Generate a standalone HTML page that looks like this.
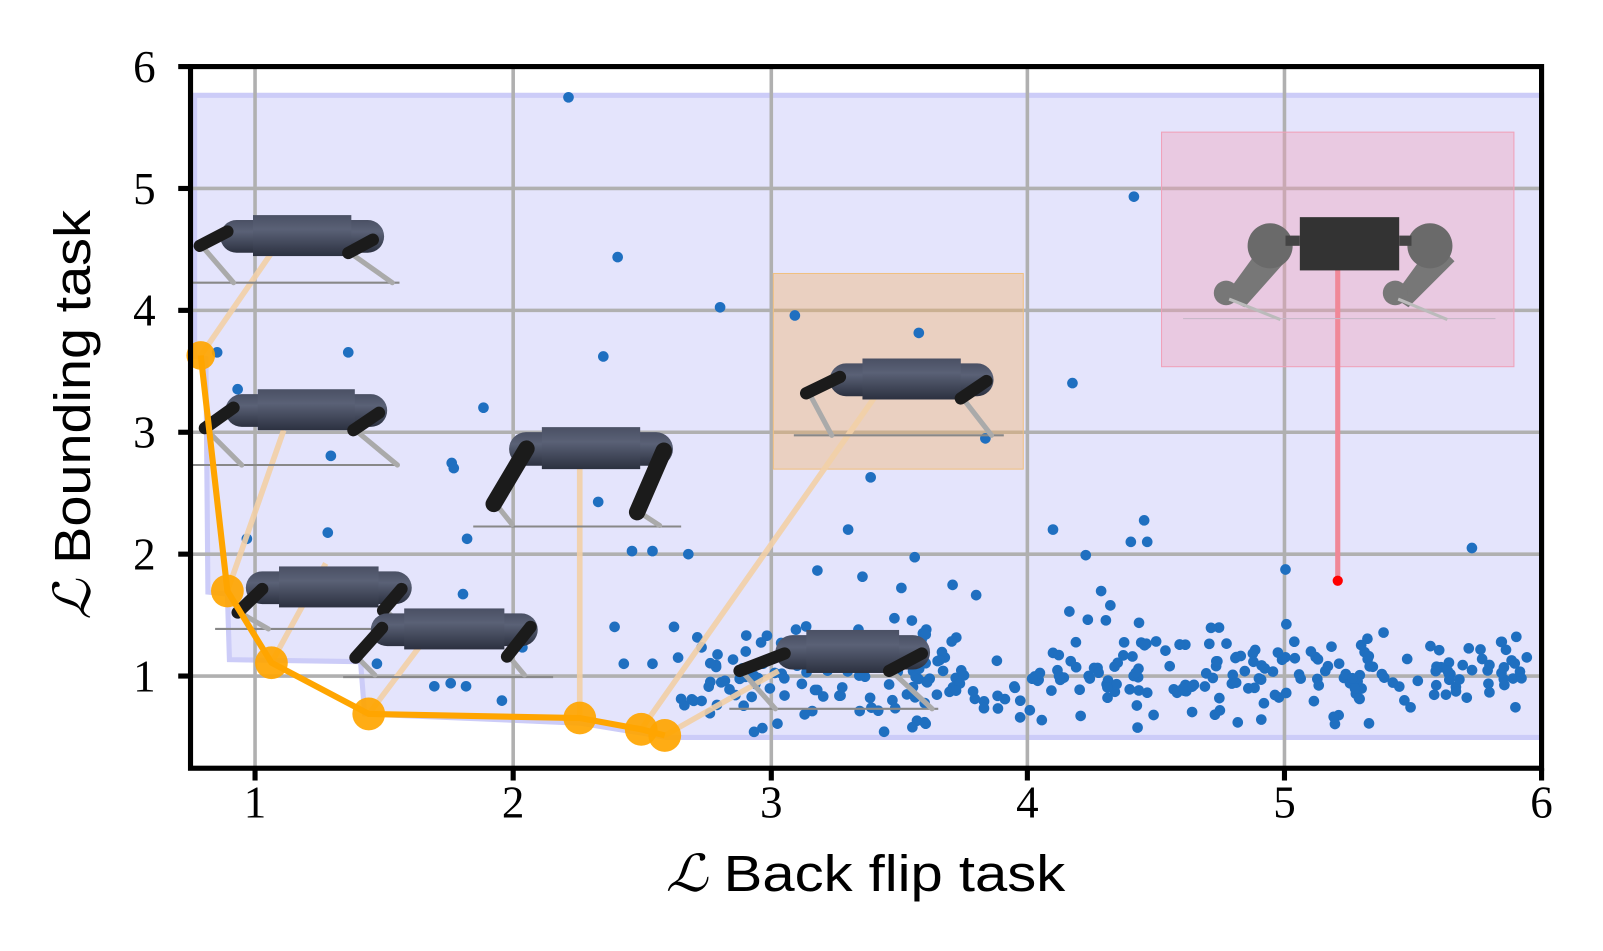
<!DOCTYPE html>
<html><head><meta charset="utf-8">
<style>
html,body{margin:0;padding:0;background:#fff;}
svg{display:block;}
.tk{font-family:"Liberation Serif","DejaVu Serif",serif;font-size:44px;fill:#000;}
.lb{font-family:"Liberation Sans","DejaVu Sans",sans-serif;font-size:50px;fill:#000;}
</style></head>
<body>
<svg id="s" width="1603" height="951" viewBox="0 0 1603 951" xmlns="http://www.w3.org/2000/svg">
<defs>
<linearGradient id="bg" x1="0" y1="0" x2="0" y2="1">
<stop offset="0" stop-color="#4a5064"/><stop offset="0.35" stop-color="#5a6176"/><stop offset="1" stop-color="#2c3140"/>
</linearGradient>
</defs>
<g id="g" transform="scale(1.0243)">
<rect x="0" y="0" width="1565" height="929" fill="#fff"/>
<polygon points="190,93 1505,93 1505,720 650,720 628,716 566,706 356,697 352,646 224,644 222,580 203,578 201,350 190,348" fill="#e4e4fc" stroke="#ccccf8" stroke-width="5"/>
<g id="grid" stroke="#b0b0b0" stroke-width="3.5">
<line x1="249" y1="65" x2="249" y2="750"/><line x1="501" y1="65" x2="501" y2="750"/><line x1="753" y1="65" x2="753" y2="750"/><line x1="1003" y1="65" x2="1003" y2="750"/><line x1="1254" y1="65" x2="1254" y2="750"/>
<line x1="186" y1="184" x2="1505" y2="184"/><line x1="186" y1="303" x2="1505" y2="303"/><line x1="186" y1="422" x2="1505" y2="422"/><line x1="186" y1="541" x2="1505" y2="541"/><line x1="186" y1="660" x2="1505" y2="660"/>
</g>
<rect x="755" y="267" width="244" height="191" fill="#f5b060" fill-opacity="0.38" stroke="#f0c080" stroke-width="1"/>
<rect x="1134" y="129" width="344" height="229" fill="#f0a0b8" fill-opacity="0.4" stroke="#f0a0b8" stroke-width="1"/>
<g id="dots" fill="#1f6fc0"></g>
<g id="conn" stroke="#f2cfa6" stroke-width="5.5" fill="none" opacity="0.9">
<line x1="196" y1="347" x2="265" y2="247"/>
<line x1="222" y1="577" x2="277" y2="420"/>
<line x1="265" y1="647" x2="318" y2="550"/>
<line x1="360" y1="697" x2="412" y2="628"/>
<line x1="566" y1="701" x2="566" y2="456"/>
<line x1="626" y1="712" x2="858" y2="382"/>
<line x1="649" y1="718" x2="760" y2="655"/>
</g>
<g id="robots"></g>
<line x1="1306" y1="262" x2="1306" y2="567" stroke="#f08898" stroke-width="5"/>
<circle cx="1306" cy="567" r="5" fill="#ff0000"/>
<g>
<line x1="1155" y1="311" x2="1460" y2="311" stroke="#c8b8c8" stroke-width="1"/>
<path d="M1195,290 L1235,235 L1255,255 L1215,300 Z" fill="#777"/>
<circle cx="1240" cy="240" r="22" fill="#6a6a6a"/>
<circle cx="1197" cy="286" r="12" fill="#777"/>
<line x1="1200" y1="292" x2="1250" y2="312" stroke="#bbb" stroke-width="3"/>
<path d="M1360,290 L1400,235 L1420,255 L1375,300 Z" fill="#777"/>
<circle cx="1396" cy="240" r="22" fill="#6a6a6a"/>
<circle cx="1362" cy="286" r="12" fill="#777"/>
<line x1="1365" y1="292" x2="1413" y2="312" stroke="#bbb" stroke-width="3"/>
<rect x="1269" y="212" width="97" height="52" fill="#333"/>
<line x1="1255" y1="235" x2="1269" y2="235" stroke="#444" stroke-width="10"/>
<line x1="1366" y1="235" x2="1378" y2="235" stroke="#444" stroke-width="10"/>
</g>
<polyline points="196,347 222,577 265,647 360,697 566,701 626,712 649,718" fill="none" stroke="#ffa500" stroke-width="6"/>
<g fill="#ffa500" fill-opacity="0.92">
<circle cx="196" cy="347" r="14"/><circle cx="222" cy="577" r="16"/><circle cx="265" cy="647" r="16"/><circle cx="360" cy="697" r="16"/><circle cx="566" cy="701" r="16"/><circle cx="626" cy="712" r="16"/><circle cx="649" cy="718" r="16"/>
</g>
<rect x="186" y="65" width="1319" height="685" fill="none" stroke="#000" stroke-width="5"/>
<g stroke="#000" stroke-width="5">
<line x1="249" y1="750" x2="249" y2="762"/><line x1="501" y1="750" x2="501" y2="762"/><line x1="753" y1="750" x2="753" y2="762"/><line x1="1003" y1="750" x2="1003" y2="762"/><line x1="1254" y1="750" x2="1254" y2="762"/><line x1="1505" y1="750" x2="1505" y2="762"/>
<line x1="174" y1="65" x2="186" y2="65"/><line x1="174" y1="184" x2="186" y2="184"/><line x1="174" y1="303" x2="186" y2="303"/><line x1="174" y1="422" x2="186" y2="422"/><line x1="174" y1="541" x2="186" y2="541"/><line x1="174" y1="660" x2="186" y2="660"/>
</g>
<g class="tk" text-anchor="middle">
<text x="249" y="798">1</text><text x="501" y="798">2</text><text x="753" y="798">3</text><text x="1003" y="798">4</text><text x="1254" y="798">5</text><text x="1505" y="798">6</text>
</g>
<g class="tk" text-anchor="end">
<text x="152" y="80">6</text><text x="152" y="199">5</text><text x="152" y="318">4</text><text x="152" y="437">3</text><text x="152" y="556">2</text><text x="152" y="675">1</text>
</g>
<text class="lb" x="845" y="870" text-anchor="middle" textLength="390" lengthAdjust="spacingAndGlyphs"><tspan font-family="Liberation Serif,serif" font-style="italic">ℒ</tspan> Back flip task</text>
<text class="lb" transform="translate(88,405) rotate(-90)" text-anchor="middle" textLength="400" lengthAdjust="spacingAndGlyphs"><tspan font-family="Liberation Serif,serif" font-style="italic">ℒ</tspan> Bounding task</text>
</g>
</svg>
<script>
(function(){
var NS="http://www.w3.org/2000/svg";
function X(x){return 186+(x-0.75)*251.2;}
function Y(y){return 65+(6-y)*119;}
var d=document.getElementById("dots");
function dot(px,py){var c=document.createElementNS(NS,"circle");c.setAttribute("cx",px);c.setAttribute("cy",py);c.setAttribute("r",5.2);d.appendChild(c);}
var pts=[[555,95],[603,251],[589,348],[703,300],[776,308],[897,325],[1107,192],[340,344],[212,344],[232,380],[472,398],[323,445],[441,452],[443,457],[850,466],[962,428],[1047,374],[584,490],[1117,508],[1104,529],[1120,529],[1028,517],[1060,542],[1255,556],[1437,535],[241,526],[456,526],[617,538],[637,538],[672,541],[828,517],[893,544],[842,563],[880,574],[798,557],[930,571],[953,581],[600,612],[609,648],[637,648],[658,612],[662,642],[490,684],[424,670],[440,667],[455,670],[510,632],[1044,597],[1062,605],[1075,577],[1084,591],[1112,608],[452,580],[368,648],[320,520]];
pts.forEach(function(p){dot(p[0],p[1]);});
var s=12345;function r(){s=(s*1103515245+12345)%2147483648;return s/2147483648;}
for(var i=0;i<330;i++){
 var x=2.65+r()*3.33;
 var g=(r()+r()+r()-1.5);
 var y=1.0+g*0.38;
 if(y<0.53)y=0.53+r()*0.1;
 dot(X(x),Y(y));
}
var R=document.getElementById("robots");
function el(t,a){var e=document.createElementNS(NS,t);for(var k in a)e.setAttribute(k,a[k]);R.appendChild(e);return e;}
function robot(o){
 el("line",{x1:o.g[0],y1:o.g[2],x2:o.g[1],y2:o.g[2],stroke:"#888",'stroke-width':2});
 el("line",{x1:o.rs[0],y1:o.rs[1],x2:o.rs[2],y2:o.rs[3],stroke:"#aaa",'stroke-width':5,'stroke-linecap':'round'});
 el("line",{x1:o.fs[0],y1:o.fs[1],x2:o.fs[2],y2:o.fs[3],stroke:"#aaa",'stroke-width':5,'stroke-linecap':'round'});
 var x=o.b[0],y=o.b[1],w=o.b[2],h=o.b[3];
 el("rect",{x:x,y:y+h*0.12,width:w,height:h*0.8,rx:h*0.4,fill:"url(#bg)"});
 el("rect",{x:x+w*0.2,y:y,width:w*0.6,height:h,fill:"url(#bg)"});
 el("line",{x1:o.rt[0],y1:o.rt[1],x2:o.rt[2],y2:o.rt[3],stroke:"#1b1b1b",'stroke-width':o.tw||12,'stroke-linecap':'round'});
 el("line",{x1:o.ft[0],y1:o.ft[1],x2:o.ft[2],y2:o.ft[3],stroke:"#1b1b1b",'stroke-width':o.tw||12,'stroke-linecap':'round'});
}
robot({b:[215,210,160,40],rt:[222,226,195,240],rs:[197,240,228,276],ft:[364,234,340,247],fs:[342,247,383,276],g:[186,390,276]});
robot({b:[220,380,158,40],rt:[228,398,200,418],rs:[200,418,236,454],ft:[370,403,345,420],fs:[347,420,388,454],g:[186,390,454]});
robot({b:[497,417,160,41],rt:[514,438,482,492],rs:[484,492,500,512],ft:[648,440,622,500],fs:[624,500,644,513],g:[462,665,514],tw:16});
robot({b:[240,553,162,40],rt:[256,575,232,598],rs:[234,598,262,614],ft:[392,575,374,596],fs:[376,596,398,614],g:[210,398,614]});
robot({b:[362,594,163,40],rt:[373,613,347,642],rs:[349,642,366,659],ft:[518,612,495,641],fs:[497,641,512,659],g:[335,540,661]});
robot({b:[810,350,160,40],rt:[820,368,787,384],rs:[790,384,812,425],ft:[963,372,938,389],fs:[940,389,968,425],g:[775,980,425]});
robot({b:[757,615,151,42],rt:[766,638,722,655],rs:[724,655,757,692],ft:[900,638,868,655],fs:[870,655,910,692],g:[712,916,692]});
})();
</script>
</body></html>
